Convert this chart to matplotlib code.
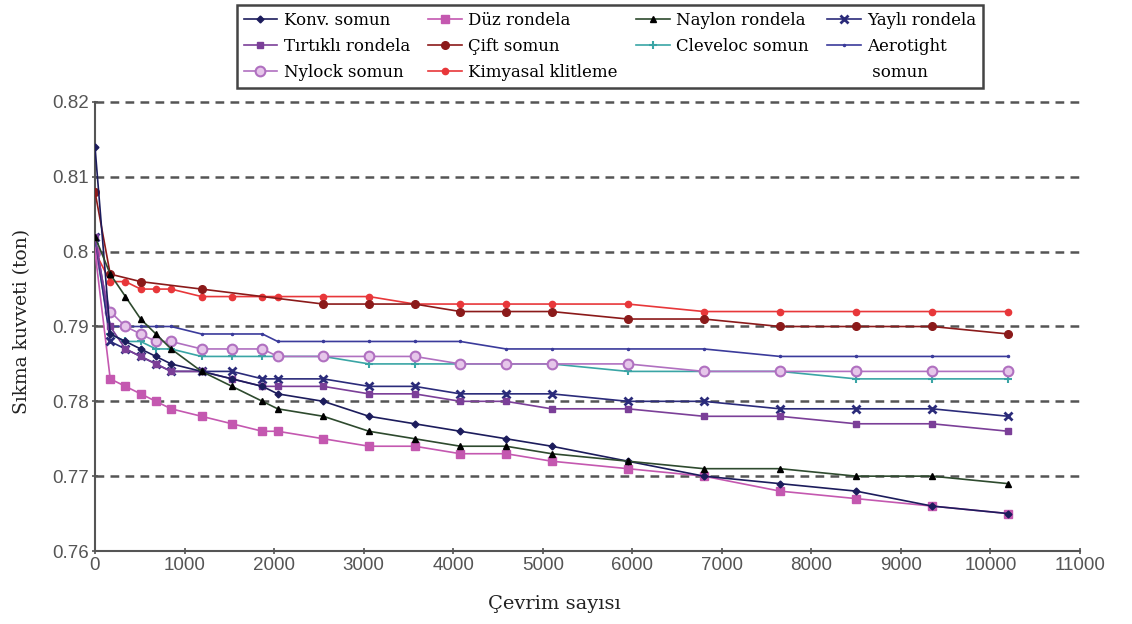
import matplotlib
matplotlib.use("Agg")
import matplotlib.pyplot as plt
from matplotlib.lines import Line2D

# ---------------- data ----------------
cycles = [0, 170, 340, 510, 680, 850, 1190, 1530, 1870, 2040, 2550, 3060,
          3570, 4080, 4590, 5100, 5950, 6800, 7650, 8500, 9350, 10200]

konv_somun = [0.814, 0.789, 0.788, 0.787, 0.786, 0.785, 0.784, 0.783, 0.782, 0.781, 0.780,
              0.778, 0.777, 0.776, 0.775, 0.774, 0.772, 0.770, 0.769, 0.768, 0.766, 0.765]
duz_rondela = [0.800, 0.783, 0.782, 0.781, 0.780, 0.779, 0.778, 0.777, 0.776, 0.776, 0.775,
               0.774, 0.774, 0.773, 0.773, 0.772, 0.771, 0.770, 0.768, 0.767, 0.766, 0.765]
naylon_rondela = [0.802, 0.797, 0.794, 0.791, 0.789, 0.787, 0.784, 0.782, 0.780, 0.779, 0.778,
                  0.776, 0.775, 0.774, 0.774, 0.773, 0.772, 0.771, 0.771, 0.770, 0.770, 0.769]
yayli_rondela = [0.802, 0.788, 0.787, 0.786, 0.785, 0.784, 0.784, 0.784, 0.783, 0.783, 0.783,
                 0.782, 0.782, 0.781, 0.781, 0.781, 0.780, 0.780, 0.779, 0.779, 0.779, 0.778]
tirtikli_rondela = [0.802, 0.790, 0.787, 0.786, 0.785, 0.784, 0.784, 0.783, 0.782, 0.782, 0.782,
                    0.781, 0.781, 0.780, 0.780, 0.779, 0.779, 0.778, 0.778, 0.777, 0.777, 0.776]
cleveloc_somun = [0.801, 0.789, 0.788, 0.788, 0.787, 0.787, 0.786, 0.786, 0.786, 0.786, 0.786,
                  0.785, 0.785, 0.785, 0.785, 0.785, 0.784, 0.784, 0.784, 0.783, 0.783, 0.783]
aerotight_somun = [0.802, 0.790, 0.790, 0.790, 0.790, 0.790, 0.789, 0.789, 0.789, 0.788, 0.788,
                   0.788, 0.788, 0.788, 0.787, 0.787, 0.787, 0.787, 0.786, 0.786, 0.786, 0.786]
nylock_somun = [0.800, 0.792, 0.790, 0.789, 0.788, 0.788, 0.787, 0.787, 0.787, 0.786, 0.786,
                0.786, 0.786, 0.785, 0.785, 0.785, 0.785, 0.784, 0.784, 0.784, 0.784, 0.784]
kimyasal = [0.800, 0.796, 0.796, 0.795, 0.795, 0.795, 0.794, 0.794, 0.794, 0.794, 0.794,
            0.794, 0.793, 0.793, 0.793, 0.793, 0.793, 0.792, 0.792, 0.792, 0.792, 0.792]

cift_cycles = [0, 170, 510, 1190, 2550, 3060, 3570, 4080, 4590, 5100, 5950, 6800,
               7650, 8500, 9350, 10200]
cift_somun = [0.808, 0.797, 0.796, 0.795, 0.793, 0.793, 0.793, 0.792, 0.792, 0.792, 0.791,
              0.791, 0.790, 0.790, 0.790, 0.789]

x_ticks = [0, 1000, 2000, 3000, 4000, 5000, 6000, 7000, 8000, 9000, 10000, 11000]
y_ticks = [0.76, 0.77, 0.78, 0.79, 0.80, 0.81, 0.82]
y_tick_labels = ["0.76", "0.77", "0.78", "0.79", "0.8", "0.81", "0.82"]

# ---------------- figure ----------------
W, H = 1132, 624
fig = plt.figure(figsize=(W / 100, H / 100), dpi=100)
ax = fig.add_axes([95 / W, 1 - 551 / H, (1080 - 95) / W, (551 - 102) / H])

lw = 1.2
h = {}
h["konv"], = ax.plot(cycles, konv_somun, color="#1c1c5c", lw=lw, marker="D", ms=3.5,
                     label="Konv. somun", zorder=5)
h["duz"], = ax.plot(cycles, duz_rondela, color="#c458b0", lw=lw, marker="s", ms=5.5,
                    label="Düz rondela", zorder=4)
h["naylon"], = ax.plot(cycles, naylon_rondela, color="#2e4a2e", lw=lw, marker="^", ms=5,
                       mfc="black", mec="black", label="Naylon rondela", zorder=5)
h["yayli"], = ax.plot(cycles, yayli_rondela, color="#2b2b7a", lw=lw, marker="x", ms=6, mew=2,
                      label="Yaylı rondela", zorder=4)
h["tirtikli"], = ax.plot(cycles, tirtikli_rondela, color="#7b3f98", lw=lw, marker="s", ms=5,
                         label="Tırtıklı rondela", zorder=4)
h["cift"], = ax.plot(cift_cycles, cift_somun, color="#8b1a1a", lw=lw, marker="o", ms=5.5,
                     label="Çift somun", zorder=4)
h["cleveloc"], = ax.plot(cycles, cleveloc_somun, color="#3aa5a5", lw=lw, marker="+", ms=6, mew=1.5,
                         label="Cleveloc somun", zorder=3)
h["aerotight"], = ax.plot(cycles, aerotight_somun, color="#3b3b9b", lw=lw, marker=".", ms=3,
                          label="Aerotight", zorder=3)
h["nylock"], = ax.plot(cycles, nylock_somun, color="#b070c0", lw=lw, marker="o", ms=7,
                       mfc="#e6c6ea", mec="#b070c0", mew=1.5, label="Nylock somun", zorder=3)
h["kimyasal"], = ax.plot(cycles, kimyasal, color="#e8373a", lw=lw, marker="o", ms=4.5,
                         label="Kimyasal klitleme", zorder=3)

# axes styling
ax.set_xlim(0, 11000)
ax.set_ylim(0.76, 0.82)
ax.set_xticks(x_ticks)
ax.set_xticklabels([str(t) for t in x_ticks])
ax.set_yticks(y_ticks)
ax.set_yticklabels(y_tick_labels)
for s in ("top", "right"):
    ax.spines[s].set_visible(False)
for s in ("left", "bottom"):
    ax.spines[s].set_color("#555555")
    ax.spines[s].set_linewidth(1.5)
ax.tick_params(direction="inout", length=5, width=1.2, color="#555555",
               labelcolor="#555555", labelsize=13.5, pad=2)
for lab in ax.get_xticklabels() + ax.get_yticklabels():
    lab.set_fontfamily("Liberation Sans")

for yv in y_ticks[1:]:
    ax.axhline(yv, color="#555555", lw=1.8, dashes=(3.5, 2.5), zorder=1, clip_on=False)

ax.set_xlabel("Çevrim sayısı", fontfamily="DejaVu Serif", fontsize=14, color="#222222", va="center")
ax.xaxis.set_label_coords((554 - 95) / 985, -(604 - 551) / 449)
ax.set_ylabel("Sıkma kuvveti (ton)", fontfamily="DejaVu Serif", fontsize=13.5, color="#222222", va="center")
ax.yaxis.set_label_coords((22 - 95) / 985, (551 - 321) / 449)

# legend
blank1 = Line2D([], [], color="none", label=" ")
blank2 = Line2D([], [], color="none", label=" somun")
handles = [h["konv"], h["tirtikli"], h["nylock"],
           h["duz"], h["cift"], h["kimyasal"],
           h["naylon"], h["cleveloc"], blank1,
           h["yayli"], h["aerotight"], blank2]
leg = fig.legend(handles=handles, labels=[x.get_label() for x in handles], ncol=4,
                 loc="upper left",
                 bbox_to_anchor=(237 / W, 1 - 5 / H, (983 - 237) / W, 0.0),
                 mode="expand", borderaxespad=0, fancybox=False, framealpha=1,
                 prop={"family": "DejaVu Serif", "size": 12}, handlelength=2.0,
                 handletextpad=0.4, columnspacing=0.8, labelspacing=0.55,
                 borderpad=0.4)
leg.get_frame().set_edgecolor("#444444")
leg.get_frame().set_linewidth(1.8)

fig.savefig("out.png", dpi=100)
